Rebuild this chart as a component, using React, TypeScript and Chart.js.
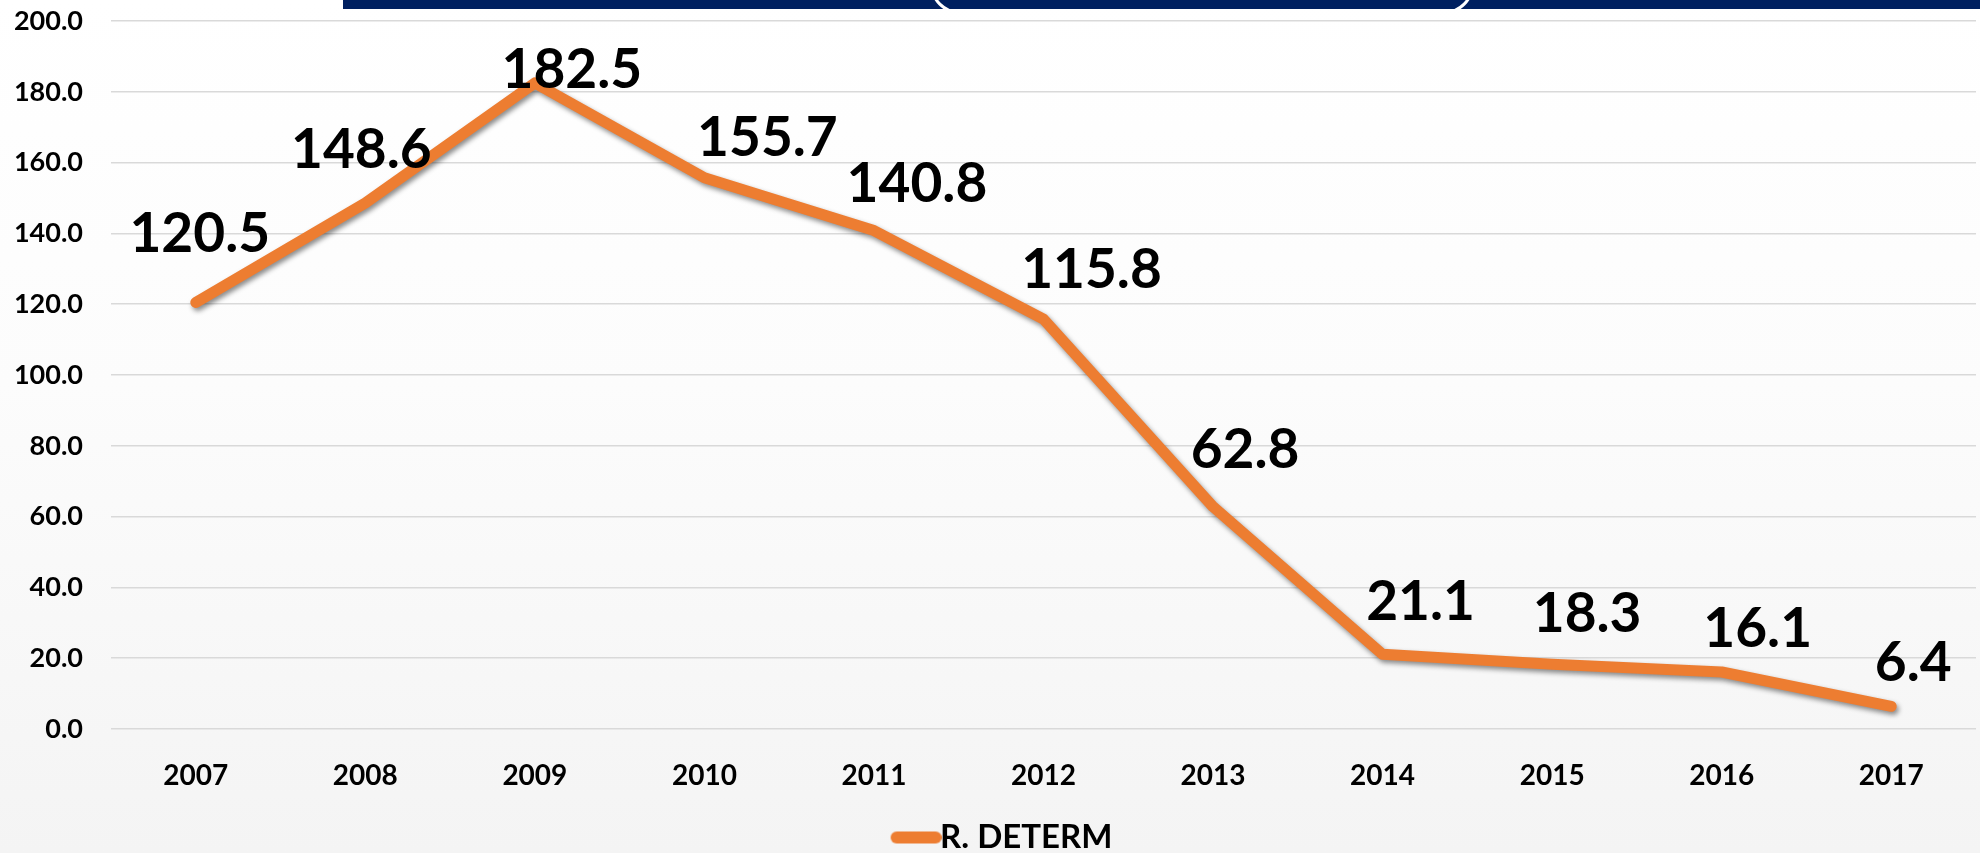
import React, { useEffect, useRef } from "react";
import { Chart, registerables } from "chart.js";

Chart.register(...registerables);

const years = ["2007", "2008", "2009", "2010", "2011", "2012", "2013", "2014", "2015", "2016", "2017"];
const rDeterm = [120.5, 148.6, 182.5, 155.7, 140.8, 115.8, 62.8, 21.1, 18.3, 16.1, 6.4];
const seriesName = "R. DETERM";
const yMin = 0;
const yMax = 200;
const yStep = 20;
// label placement relative to each point (px)
const labelDx = [4, -4, 37, 63, 43, 48, 32, 38, 35, 36, 22];
const labelDy = [-70, -55, -15, -42, -48, -51, -58, -54, -52, -45, -45];

const FONT = "Lato, 'Open Sans', sans-serif";
const LINE_COLOR = "#ED7D31";
const LABEL_SIZE = 55;

const shadowPlugin = {
  id: "lineShadow",
  beforeDatasetsDraw(chart: any) {
    const ctx = chart.ctx;
    ctx.save();
    ctx.shadowColor = "rgba(0,0,0,0.45)";
    ctx.shadowBlur = 5;
    ctx.shadowOffsetX = 2;
    ctx.shadowOffsetY = 3;
  },
  afterDatasetsDraw(chart: any) {
    chart.ctx.restore();
  },
};

const labelPlugin = {
  id: "valueLabels",
  afterDatasetsDraw(chart: any) {
    const ctx = chart.ctx;
    const meta = chart.getDatasetMeta(0);
    ctx.save();
    ctx.font = `bold ${LABEL_SIZE}px ${FONT}`;
    ctx.fillStyle = "#000000";
    ctx.textAlign = "center";
    ctx.textBaseline = "alphabetic";
    meta.data.forEach((pt: any, i: number) => {
      const v = chart.data.datasets[0].data[i] as number;
      const cx = pt.x + labelDx[i];
      const cy = pt.y + labelDy[i];
      ctx.fillText(v.toFixed(1), cx, cy + 0.36 * LABEL_SIZE);
    });
    ctx.restore();
  },
};

function makeLegendLine(): HTMLCanvasElement {
  const c = document.createElement("canvas");
  c.width = 96;
  c.height = 14;
  const g = c.getContext("2d");
  if (g) {
    g.strokeStyle = LINE_COLOR;
    g.lineWidth = 12;
    g.lineCap = "round";
    g.beginPath();
    g.moveTo(51, 7);
    g.lineTo(90, 7);
    g.stroke();
  }
  return c;
}

export default function App() {
  const canvasRef = useRef<HTMLCanvasElement | null>(null);

  useEffect(() => {
    document.body.style.margin = "0";
    const canvas = canvasRef.current;
    if (!canvas) return;
    const legendLine = makeLegendLine();
    const chart = new Chart(canvas, {
      type: "line",
      data: {
        labels: years,
        datasets: [
          {
            label: seriesName,
            data: rDeterm,
            borderColor: LINE_COLOR,
            backgroundColor: LINE_COLOR,
            borderWidth: 11,
            borderCapStyle: "round",
            borderJoinStyle: "round",
            pointRadius: 0,
            pointHoverRadius: 0,
            tension: 0,
            fill: false,
          },
        ],
      },
      options: {
        animation: false,
        responsive: true,
        maintainAspectRatio: false,
        layout: { padding: { top: 21, left: 0, right: 4, bottom: -11 } },
        plugins: {
          tooltip: { enabled: false },
          legend: {
            display: true,
            position: "bottom",
            labels: {
              usePointStyle: true,
              pointStyle: legendLine as any,
              pointStyleWidth: 60,
              color: "#000000",
              padding: 2,
              font: { family: FONT, size: 33, weight: "bold" },
            },
          },
        },
        scales: {
          x: {
            type: "category",
            offset: true,
            grid: { display: false },
            border: { display: false },
            ticks: {
              color: "#000000",
              padding: 22,
              font: { family: FONT, size: 28, weight: "bold" },
              maxRotation: 0,
            },
            afterFit: (s: any) => {
              s.height = 90;
            },
          },
          y: {
            min: yMin,
            max: yMax,
            border: { display: false },
            grid: {
              color: "#d9d9d9",
              lineWidth: 1.5,
              drawTicks: true,
              tickLength: 28,
              tickColor: "rgba(0,0,0,0)",
            },
            ticks: {
              stepSize: yStep,
              color: "#000000",
              padding: 0,
              font: { family: FONT, size: 27, weight: "bold" },
              callback: (v: any) => Number(v).toFixed(1),
            },
            afterFit: (s: any) => {
              s.width = 111;
            },
          },
        },
      },
      plugins: [shadowPlugin, labelPlugin],
    });
    return () => chart.destroy();
  }, []);

  return (
    <div
      style={{
        position: "absolute",
        left: 0,
        top: 0,
        width: 1980,
        height: 853,
        overflow: "hidden",
        background: "linear-gradient(180deg, #ffffff 0%, #fcfcfc 45%, #f4f4f4 100%)",
      }}
    >
      <div
        style={{
          position: "absolute",
          left: 343,
          top: 0,
          width: 1637,
          height: 9,
          background: "#002060",
          overflow: "hidden",
        }}
      >
        <div
          style={{
            position: "absolute",
            left: 587,
            top: -56,
            width: 544,
            height: 70,
            border: "3px solid #ffffff",
            borderRadius: 30,
            boxSizing: "border-box",
          }}
        />
      </div>
      <canvas ref={canvasRef} style={{ position: "absolute", left: 0, top: 0 }} />
    </div>
  );
}
